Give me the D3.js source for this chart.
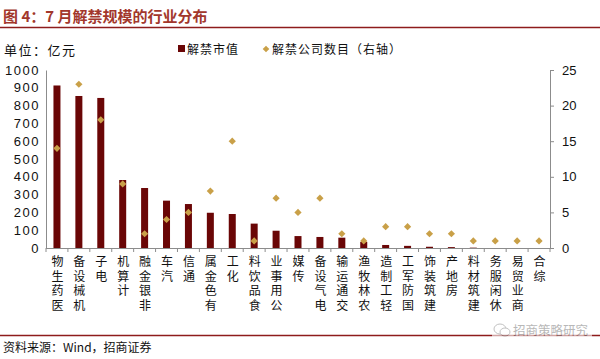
<!DOCTYPE html>
<html>
<head>
<meta charset="utf-8">
<script src="https://cdn.jsdelivr.net/npm/d3@7"></script>
<style>
  html, body { margin: 0; padding: 0; background: #fff; }
  svg { display: block; }
</style>
</head>
<body>
<script>
const categories = ["医药生物","机械设备","电子","计算机","非银金融","汽车","通信","有色金属","化工","食品饮料","公用事业","传媒","电气设备","交通运输","农林牧渔","轻工制造","国防军工","建筑装饰","房地产","建筑材料","休闲服务","商业贸易","综合"];
const marketValue = [913, 854, 843, 382, 337, 266, 247, 198, 191, 137, 97, 67, 62, 58, 34, 17, 12, 7, 5, 2, 0, 0, 0];
const companyCount = [14, 23, 18, 9, 2, 4, 5, 8, 15, 1, 7, 5, 7, 2, 1, 3, 3, 2, 2, 1, 1, 1, 1];
const leftTicks = [0, 100, 200, 300, 400, 500, 600, 700, 800, 900, 1000];
const rightTicks = [0, 5, 10, 15, 20, 25];

const W = 600, H = 359;
const cjk = "'Noto Sans CJK SC', sans-serif";
const latin = "'Liberation Sans', Arial, sans-serif";
const barColor = "#6a0606";
const diaColor = "#c9a048";
const axisColor = "#8c8c8c";
const ruleColor = "#8e1c1c";

const svg = d3.select("body").append("svg").attr("width", W).attr("height", H);
svg.append("rect").attr("width", W).attr("height", H).attr("fill", "#fff");

const x0 = 46, x1 = 550, yTop = 70, yBot = 248;
const x = d3.scaleBand().domain(categories).range([x0, x1]).padding(0);
const yL = d3.scaleLinear().domain([0, 1000]).range([yBot, yTop]);
const yR = d3.scaleLinear().domain([0, 25]).range([yBot, yTop]);

// Title
svg.append("text").attr("x", 3).attr("y", 22)
  .attr("font-family", cjk).attr("font-size", 15).attr("font-weight", "bold")
  .attr("fill", "#a2372c").text("图 4：7 月解禁规模的行业分布");
svg.append("line").attr("x1", 0).attr("x2", W).attr("y1", 27.5).attr("y2", 27.5)
  .attr("stroke", ruleColor).attr("stroke-width", 1.5);

// Unit
svg.append("text").attr("x", 4).attr("y", 55)
  .attr("font-family", cjk).attr("font-size", 13).attr("letter-spacing", 1.5)
  .attr("fill", "#111").text("单位：亿元");

// Legend
const lg = svg.append("g").attr("font-family", cjk).attr("font-size", 12).attr("fill", "#111");
lg.append("rect").attr("x", 178).attr("y", 45).attr("width", 7).attr("height", 7).attr("fill", barColor);
lg.append("text").attr("x", 187).attr("y", 53.5).attr("letter-spacing", 1).text("解禁市值");
lg.append("path").attr("d", d3.symbol().type(d3.symbolSquare).size(22)())
  .attr("transform", "translate(266,49) rotate(45)").attr("fill", diaColor);
lg.append("text").attr("x", 272).attr("y", 53.5).attr("letter-spacing", 1).text("解禁公司数目（右轴）");

// Axes
const gL = svg.append("g").attr("transform", `translate(${x0},0)`)
  .call(d3.axisLeft(yL).tickValues(leftTicks).tickFormat(d3.format("d")).tickSize(0).tickPadding(6));
gL.select(".domain").attr("stroke", axisColor);
gL.selectAll("text").attr("font-family", latin).attr("font-size", 13).attr("fill", "#111").attr("letter-spacing", 1.5);

const gR = svg.append("g").attr("transform", `translate(${x1},0)`)
  .call(d3.axisRight(yR).tickValues(rightTicks).tickFormat(d3.format("d")).tickSize(4).tickSizeOuter(0).tickPadding(8));
gR.select(".domain").attr("stroke", axisColor);
gR.selectAll("line").attr("stroke", axisColor);
gR.selectAll("text").attr("font-family", latin).attr("font-size", 13).attr("fill", "#111");

// bottom axis with ticks at category boundaries
const gB = svg.append("g");
gB.append("line").attr("x1", x0).attr("x2", x1).attr("y1", yBot + 0.5).attr("y2", yBot + 0.5).attr("stroke", axisColor);
const bounds = categories.map(c => x(c)).concat([x1]);
gB.selectAll("line.t").data(bounds).join("line").attr("class", "t")
  .attr("x1", d => d).attr("x2", d => d).attr("y1", yBot).attr("y2", yBot + 4).attr("stroke", axisColor);

// Bars
const bw = 7;
svg.append("g").selectAll("rect").data(categories).join("rect")
  .attr("x", (c) => x(c) + x.bandwidth() / 2 - bw / 2)
  .attr("y", (c, i) => yL(marketValue[i]))
  .attr("width", bw)
  .attr("height", (c, i) => yBot - yL(marketValue[i]))
  .attr("fill", barColor);

// Diamonds
svg.append("g").selectAll("path").data(categories).join("path")
  .attr("d", d3.symbol().type(d3.symbolSquare).size(26)())
  .attr("transform", (c, i) => `translate(${x(c) + x.bandwidth() / 2},${yR(companyCount[i])}) rotate(45)`)
  .attr("fill", diaColor);

// Category labels: one upright character per text, stacked so the label reads
// bottom-to-top with its last character nearest the axis.
const fs = 12, pitch = 14.7, firstBaseline = 266;
const lab = svg.append("g").attr("font-family", cjk).attr("font-size", fs).attr("fill", "#111");
categories.forEach(c => {
  const chars = Array.from(c);
  const n = chars.length;
  const cx = x(c) + x.bandwidth() / 2 + 0.5;
  chars.forEach((ch, k) => {
    const by = firstBaseline + (n - 1 - k) * pitch;
    lab.append("text")
      .attr("transform", `translate(${cx},${by}) rotate(-90)`)
      .attr("x", 0)
      .attr("y", -fs / 2)
      .attr("rotate", 90)
      .text(ch);
  });
});

// Bottom rule and source
svg.append("line").attr("x1", 0).attr("x2", W).attr("y1", 335.5).attr("y2", 335.5)
  .attr("stroke", ruleColor).attr("stroke-width", 1.3);
svg.append("text").attr("x", 3).attr("y", 352)
  .attr("font-family", cjk).attr("font-size", 12).attr("fill", "#111").text("资料来源：Wind，招商证券");

// Watermark
const wm = svg.append("g").attr("opacity", 0.6);
wm.append("rect").attr("x", 492).attr("y", 322).attr("width", 100).attr("height", 18).attr("fill", "#fff");
wm.append("ellipse").attr("cx", 500).attr("cy", 329).attr("rx", 6).attr("ry", 5).attr("fill", "none").attr("stroke", "#9a9a9a");
wm.append("ellipse").attr("cx", 505).attr("cy", 332).attr("rx", 5).attr("ry", 4).attr("fill", "#fff").attr("stroke", "#9a9a9a");
wm.append("text").attr("x", 513).attr("y", 335).attr("font-family", cjk).attr("font-size", 12.5)
  .attr("fill", "#8a8a8a").text("招商策略研究");
</script>
</body>
</html>
